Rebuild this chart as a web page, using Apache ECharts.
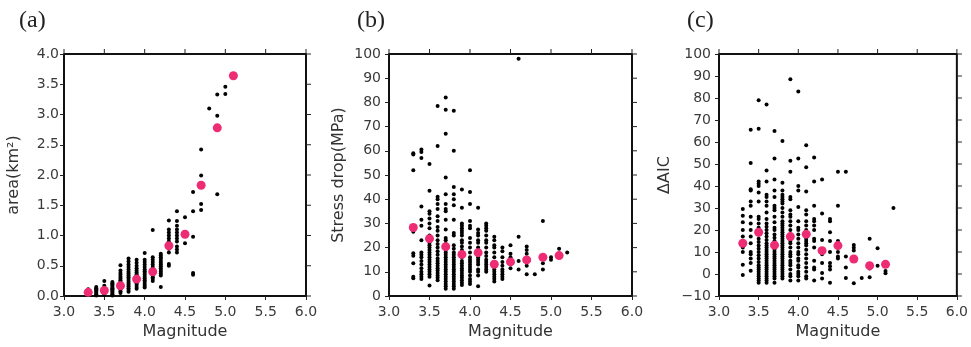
<!DOCTYPE html>
<html>
<head>
<meta charset="utf-8">
<script src="https://cdn.jsdelivr.net/npm/echarts@6/dist/echarts.min.js"></script>
<style>
html,body{margin:0;padding:0;background:#fff;}
#chart{width:971px;height:347px;}
</style>
</head>
<body>
<div id="chart"></div>
<script>
// ---- data ----
const magnitudes = [3.3,3.4,3.5,3.6,3.7,3.8,3.9,4.0,4.1,4.2,4.3,4.4,4.5,4.6,4.7,4.8,4.9,5.0,5.1,5.2];

const areaByMag = [
  [0.02,0.04,0.06,0.08,0.11],
  [0.01,0.03,0.05,0.07,0.09,0.11,0.13,0.15],
  [0.02,0.04,0.06,0.08,0.10,0.12,0.14,0.17,0.25],
  [0.01,0.03,0.05,0.07,0.09,0.11,0.13,0.15,0.17,0.19,0.21,0.23],
  [0.05,0.08,0.11,0.14,0.17,0.20,0.23,0.26,0.29,0.32,0.35,0.38,0.42,0.51],
  [0.07,0.10,0.13,0.16,0.19,0.22,0.25,0.28,0.31,0.34,0.37,0.40,0.44,0.48,0.52,0.57,0.62],
  [0.12,0.15,0.18,0.21,0.24,0.27,0.30,0.33,0.36,0.39,0.42,0.46,0.50,0.55,0.60],
  [0.14,0.17,0.20,0.23,0.26,0.29,0.32,0.35,0.38,0.41,0.44,0.48,0.52,0.56,0.60,0.71],
  [0.25,0.28,0.31,0.34,0.37,0.40,0.44,0.48,0.52,0.56,0.60,0.64,1.09],
  [0.15,0.34,0.37,0.40,0.43,0.46,0.49,0.52,0.55,0.58,0.61,0.64,0.67,0.70],
  [0.50,0.53,0.72,0.78,0.85,0.90,0.95,1.00,1.05,1.10,1.25],
  [0.72,0.77,0.82,0.90,0.95,1.00,1.05,1.10,1.16,1.24,1.40],
  [0.87,1.30],
  [0.35,0.38,0.98,1.40,1.72],
  [1.42,1.52,1.99,2.42],
  [3.10],
  [1.68,2.98,3.33],
  [3.34,3.46],
  [],
  []
];

const stressByMag = [
  [7.3,8,13.5,16.6,17.7,26.5,52,58.5,59],
  [7,8,9,10,11.5,13,14.5,16,17,18,23,29,31.5,37,57,59.5,60.5],
  [4.3,8,9,10,11,12,13,14,15,16,17,18,19,20,21,22,23,25,28,30,32,34,35,43.5,54.5],
  [6.5,7.5,8.5,9.5,10.5,11.5,12.5,13.5,14.5,15.5,17,18.5,20,21.5,23,25,27,28.5,31,33,36,38,40,41,62,78.5],
  [3,4,5,6,7,8,9,10,11,12,13,14,15,16,17,18,19,20,21.5,23,24,27.5,31.5,35,36,38,42,49,67,77,82],
  [3,4,5,6,7,8,9,10,11,12,13,14,15,16,17,18,19.5,21,25,26,31.5,37.5,40,42,45,60,76.5],
  [4.5,5.5,6.5,7.5,8.5,9.5,10.5,11.5,12.5,13.5,14.5,16,17.5,19,20.5,22,23,25,26,27,28,29,30,36.5,44],
  [5,6,7,8.5,10,11,12,13,14,15,16,18,20,22,24,28,29,31,38,43,52],
  [4,8.5,10,11,13,14,15,16,18,20,22,23,25,26,27.5,36.5],
  [10,11,12,13,14,15,16.5,18,20,22,23,25,27,28,29,30],
  [6,7,8,9,10,11,12,14,16,18,20,21,23,24.5],
  [7,8,9,10,11,12.5,14,16,18.5,20],
  [11.5,14,16,17.5,21],
  [11,14.5,24.5,98],
  [9,12.5,17.5,19,20.5],
  [9],
  [11,13.5,31],
  [15,16],
  [19.5],
  [18]
];

const aicByMag = [
  [-0.5,4.2,10,12,14,17,20,23.5,26.5,29.5],
  [1.5,5,7,9,10,14,17,20,23,26,31,33,38,38.5,50.5,65.6],
  [-4,-3,-2,-1,0,1,2,3,4,5.5,7,8.5,10,11.5,13,14.5,16,18,19.5,21,23,25,26,33,37,40,41,42,66,79],
  [-4,-3,-2,-1,0,1,2,3,4,5,6,7,8,9,10,11,12,13,14,15.5,17,18.5,20,21.5,23,25,28,31,33,35,36,42,47,77],
  [-4,-2,-1,0,1,2,3,4,5,6,7,8,9,10,11,12,13.5,15,16.5,18,20,21,23.5,26,29,30,31,35,38,43,52.5,65],
  [-2,-1,0,1,2,3,4,5,6,7,8,9,10,11,12,13,14,15,16,17,18,19,20,21,22,23,24,26,28,30,32,33,34,35,36,38,41.5,60.5],
  [-3,-1,0,2,4,5,6,8,9,10,12,14,15,16,18,20,22,24,26,27,29,34,35,46.5,51.5,88.5],
  [-3,-1,0,1,3,4,6,7,9,10,12,14,16,18,20,21,24,30.5,38,40,52.5,83],
  [-2,-1,1,3,5,7,9,11,13,14,15,16,18,20,22,24,27,29,37.5,48.5,58.5],
  [-3,2,3,6,12,15,16,20,22,24,25,31,42,53],
  [-2,0.5,5,9,11,15.5,27.5,43],
  [-4,2,3.5,5,10,15,19,24,25],
  [7,8,10,12,15,31,46.5],
  [-1.8,3,8,46.5],
  [-4.2,10.7,11.9,13.2],
  [-1.8],
  [-1.5,2.5,16],
  [3.7,11.7],
  [0.3,1.4],
  [30]
];

const binMags   = [3.3,3.5,3.7,3.9,4.1,4.3,4.5,4.7,4.9,5.1];
const areaMean  = [0.06,0.09,0.17,0.28,0.40,0.83,1.02,1.83,2.78,3.64];
const stressMean= [28.3,23.7,20.4,17.2,17.9,13.1,14.1,14.9,16.0,16.7];
const aicMean   = [14.0,19.0,13.1,17.0,18.1,10.6,12.9,6.8,3.8,4.4];

const panelLetters = ['(a)','(b)','(c)'];
const yNames = ['area(km²)','Stress drop(MPa)','ΔAIC'];
const yRanges = [[0,4,0.5],[0,100,10],[-10,100,10]];
const xRange = [3,6,0.5];

// ---- build ----
function flatten(cols){
  const out=[];
  cols.forEach((c,i)=>c.forEach(v=>out.push([magnitudes[i],v])));
  return out;
}
function pairs(vals){ return vals.map((v,i)=>[binMags[i],v]); }
function ticksOf(min,max,step){ const t=[]; for(let k=0; min+k*step<=max+1e-9; k++) t.push(+(min+k*step).toFixed(6)); return t; }

const grids = [
  {left:64, top:54, width:242, height:242},
  {left:389, top:54, width:243, height:242},
  {left:719, top:54, width:240, height:242}
];
const yLabelMargin = [5,8,8];
const yNameGap = [42,42,46];
const letterLeft = [14,352,682];

const FONT = 'DejaVu Sans';
function mkLine(){ return {show:true, onZero:false, lineStyle:{color:'#111', width:2}}; }
function mkTick(){ return {show:true, inside:false, length:4, lineStyle:{color:'#222', width:1}}; }

const xAxes=[], yAxes=[], series=[];
const blackSets=[flatten(areaByMag),flatten(stressByMag),flatten(aicByMag)];
const meanSets=[areaMean,stressMean,aicMean];

grids.forEach((g,i)=>{
  const fmt1 = v => (Math.abs(v)<1e-9?0:v).toFixed(1);
  const r=yRanges[i];
  const yfmt = i===0 ? fmt1 : (v => String(Math.round(v)).replace('-','\u2212'));
  xAxes.push({type:'value', gridIndex:i, position:'bottom', min:xRange[0], max:xRange[1], interval:xRange[2],
    axisLine:mkLine(), axisTick:mkTick(), splitLine:{show:false},
    axisLabel:{show:true, margin:9, color:'#3a3a3a', fontFamily:FONT, fontSize:14, formatter:fmt1},
    name:'Magnitude', nameLocation:'middle', nameGap:27,
    nameTextStyle:{color:'#333', fontFamily:FONT, fontSize:16}});
  yAxes.push({type:'value', gridIndex:i, position:'left', min:r[0], max:r[1], interval:r[2],
    axisLine:mkLine(), axisTick:mkTick(), splitLine:{show:false},
    axisLabel:{show:true, margin:yLabelMargin[i], color:'#3a3a3a', fontFamily:FONT, fontSize:14, formatter:yfmt},
    name:yNames[i], nameLocation:'middle', nameGap:yNameGap[i], nameRotate:90,
    nameTextStyle:{color:'#333', fontFamily:FONT, fontSize:16}});
});

for (let i=0;i<3;i++){
  const r=yRanges[i];
  const X0=xRange[0], X1=xRange[1], Y0=r[0], Y1=r[1];
  // frame box (top and right edges) drawn through the panel's own scales
  series.push({type:'line', xAxisIndex:i, yAxisIndex:i, data:[[X0,Y1],[X1,Y1],[X1,Y0]],
    symbol:'none', clip:false, silent:true, z:5, lineStyle:{color:'#111', width:2}, animation:false});
  // top ticks
  series.push({type:'scatter', xAxisIndex:i, yAxisIndex:i, data:ticksOf(X0,X1,xRange[2]).map(v=>[v,Y1]),
    symbol:'rect', symbolSize:[1,5], symbolOffset:[0,-2.5], clip:false, silent:true, z:5,
    itemStyle:{color:'#222', opacity:1}, animation:false});
  // right ticks
  series.push({type:'scatter', xAxisIndex:i, yAxisIndex:i, data:ticksOf(Y0,Y1,r[2]).map(v=>[X1,v]),
    symbol:'rect', symbolSize:[5,1], symbolOffset:[2.5,0], clip:false, silent:true, z:5,
    itemStyle:{color:'#222', opacity:1}, animation:false});
  // data
  series.push({type:'scatter', xAxisIndex:i, yAxisIndex:i, data:blackSets[i],
    symbolSize:4, itemStyle:{color:'#000', opacity:1}, z:2, silent:true, animation:false});
  series.push({type:'scatter', xAxisIndex:i, yAxisIndex:i, data:pairs(meanSets[i]),
    symbolSize:9, itemStyle:{color:'#ee2c74', opacity:1}, z:3, silent:true, animation:false});
}

const titles = panelLetters.map((t,i)=>({text:t, left:letterLeft[i], top:4,
  textStyle:{fontFamily:'Liberation Serif', fontSize:24, fontWeight:'normal', color:'#222'}}));

const chart = echarts.init(document.getElementById('chart'));
chart.setOption({
  animation:false,
  title:titles,
  grid:grids,
  xAxis:xAxes,
  yAxis:yAxes,
  series
});
</script>
</body>
</html>
